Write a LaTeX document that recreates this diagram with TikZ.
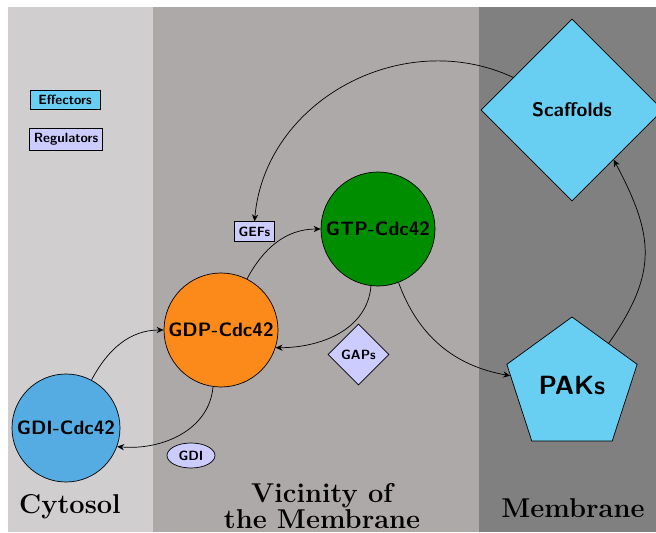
\documentclass[tikz,border=0pt]{standalone}
\usepackage{tikz}
\usetikzlibrary{shapes.geometric}
\usetikzlibrary{arrows.meta}
\usepackage{xcolor}

\definecolor{cytosolgray}{RGB}{208,206,207}
\definecolor{vicinitygray}{RGB}{173,169,168}
\definecolor{membranegray}{RGB}{128,128,128}
\definecolor{effectorblue}{RGB}{104,207,243}
\definecolor{regulatorlilac}{RGB}{204,204,255}
\definecolor{gdiblue}{RGB}{85,172,226}
\definecolor{gdporange}{RGB}{252,138,26}
\definecolor{gtpgreen}{RGB}{0,142,0}

\begin{document}
\begin{tikzpicture}[
  protein/.style={circle, draw=black, inner sep=0pt,
    font=\fontsize{11}{13}\selectfont\sffamily\bfseries},
  tagbox/.style={draw=black, inner xsep=2.5pt, inner ysep=2.8pt,
    font=\fontsize{7.6}{9}\selectfont\sffamily\bfseries},
  region/.style={align=center, inner sep=0pt,
    font=\fontsize{15.5}{14.5}\selectfont\bfseries},
  link/.style={black, thin, -{Stealth[length=4pt,width=3.5pt]}}
]

\clip (0,0) rectangle (13.12,10.64);

% compartments
\fill[cytosolgray] (0.17,0) rectangle (3.06,10.49);
\fill[vicinitygray] (3.06,0) rectangle (9.58,10.49);
\fill[membranegray] (9.58,0) rectangle (13.12,10.49);

% legend
\node[tagbox, fill=effectorblue, minimum width=1.4cm] (effectors) at (1.30,8.64) {Effectors};
\node[tagbox, fill=regulatorlilac, minimum width=1.46cm] (regulators) at (1.32,7.86) {Regulators};

% Cdc42 states
\node[protein, fill=gdiblue, minimum size=2.16cm] (gdicdc) at (1.32,2.08) {GDI-Cdc42};
\node[protein, fill=gdporange, minimum size=2.28cm] (gdp) at (4.42,4.04) {GDP-Cdc42};
\node[protein, fill=gtpgreen, minimum size=2.28cm] (gtp) at (7.56,6.06) {GTP-Cdc42};

% effectors
\node[regular polygon, regular polygon sides=5, draw=black, fill=effectorblue,
  minimum size=2.74cm, inner sep=0pt,
  font=\fontsize{15}{18}\selectfont\sffamily\bfseries] (paks) at (11.44,2.93) {PAKs};
\node[diamond, draw=black, fill=effectorblue, minimum size=3.64cm, inner sep=0pt,
  font=\fontsize{11.2}{13}\selectfont\sffamily\bfseries] (scaffolds) at (11.44,8.44) {Scaffolds};

% regulators
\node[tagbox, fill=regulatorlilac] (gefs) at (5.09,6.01) {GEFs};
\node[tagbox, diamond, fill=regulatorlilac, minimum size=1.22cm, inner sep=0pt] (gaps) at (7.17,3.55) {GAPs};
\node[tagbox, ellipse, fill=regulatorlilac, minimum width=0.96cm, minimum height=0.5cm, inner sep=0pt] (gdi) at (3.82,1.53) {GDI};

% cycle
\draw[link] (gdicdc.62) to[out=62, in=180] (gdp.west);
\draw[link] (gdp.262) to[out=-95, in=-5] (gdicdc.-20);
\draw[link] (gdp.63) to[out=62, in=180] (gtp.west);
\draw[link] (gtp.263) to[out=-95, in=0] (gdp.-18);
\draw[link] (gtp.-69) to[out=-70, in=170] (paks.171);
\draw[link] (paks.49) to[out=55, in=-62, looseness=1.2] (scaffolds.-50);
\draw[link] (scaffolds.151) to[out=155, in=85, looseness=1.05] (gefs.north);

% compartment names
\node[region, anchor=base] (cytosol) at (1.40,0.36) {Cytosol};
\node[region, anchor=north] (vicinity) at (6.44,0.97) {Vicinity of\\the Membrane};
\node[region, anchor=base] (membrane) at (11.46,0.30) {Membrane};

\end{tikzpicture}
\end{document}
